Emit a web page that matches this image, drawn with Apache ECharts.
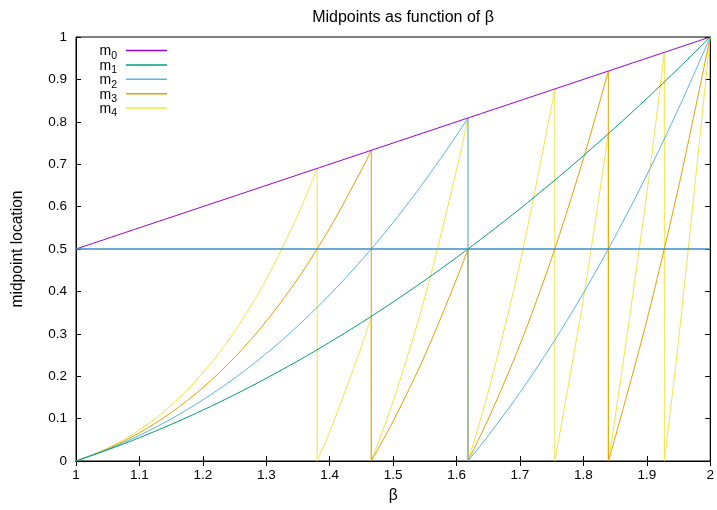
<!DOCTYPE html>
<html>
<head>
<meta charset="utf-8">
<script src="https://cdn.jsdelivr.net/npm/echarts@6/dist/echarts.min.js"></script>
<style>
  html, body { margin: 0; padding: 0; background: #fff; }
  #chart { width: 717px; height: 510px; }
</style>
</head>
<body>
<div id="chart"></div>
<script>
// Orbit of the midpoint under the beta map, m_k as a function of beta.
// Each curve is stored as continuous pieces of [beta, m] pairs; a jump
// back to 0 separates consecutive pieces.
const m0Pieces = [
  [[1, 0.5], [2, 1]]
];
const m1Pieces = [
  [[1, 0], [1.05, 0.02625], [1.1, 0.055], [1.15, 0.08625], [1.2, 0.12], [1.25, 0.15625],
   [1.3, 0.195], [1.35, 0.23625], [1.4, 0.28], [1.45, 0.32625], [1.5, 0.375], [1.55, 0.42625],
   [1.6, 0.48], [1.65, 0.53625], [1.7, 0.595], [1.75, 0.65625], [1.8, 0.72], [1.85, 0.78625],
   [1.9, 0.855], [1.95, 0.92625], [2, 1]]
];
const m2Pieces = [
  [[1, 0], [1.05, 0.027563], [1.1, 0.0605], [1.15, 0.099188], [1.2, 0.144], [1.25, 0.195313],
   [1.3, 0.2535], [1.35, 0.318938], [1.4, 0.392], [1.45, 0.473063], [1.5, 0.5625],
   [1.55, 0.660688], [1.6, 0.768], [1.61803, 0.80902]],
  [[1.61803, 0], [1.65, 0.059813], [1.7, 0.1615], [1.75, 0.273438], [1.8, 0.396],
   [1.85, 0.529563], [1.9, 0.6745], [1.95, 0.831188], [2, 1]]
];
const m3Pieces = [
  [[1, 0], [1.05, 0.028941], [1.1, 0.06655], [1.15, 0.114066], [1.2, 0.1728], [1.25, 0.244141],
   [1.3, 0.32955], [1.35, 0.430566], [1.4, 0.5488], [1.45, 0.685941], [1.46557, 0.732782]],
  [[1.46557, 0], [1.5, 0.09375], [1.55, 0.249066], [1.6, 0.4288], [1.61803, 0.5]],
  [[1.61803, 0], [1.65, 0.098691], [1.7, 0.27455], [1.75, 0.478516], [1.8, 0.7128],
   [1.83929, 0.919645]],
  [[1.83929, 0], [1.85, 0.054691], [1.9, 0.33155], [1.95, 0.645816], [2, 1]]
];
const m4Pieces = [
  [[1, 0], [1.05, 0.030388], [1.1, 0.073205], [1.15, 0.131176], [1.2, 0.20736], [1.25, 0.305176],
   [1.3, 0.428415], [1.35, 0.581264], [1.38028, 0.690152]],
  [[1.38028, 0], [1.4, 0.06832], [1.45, 0.269614], [1.46557, 0.341155]],
  [[1.46557, 0], [1.5, 0.140625], [1.55, 0.386052], [1.6, 0.68608], [1.61803, 0.80902]],
  [[1.61803, 0], [1.65, 0.16284], [1.7, 0.466735], [1.75, 0.837402], [1.75488, 0.87744]],
  [[1.75488, 0], [1.8, 0.38304], [1.83929, 0.771849]],
  [[1.83929, 0], [1.85, 0.101178], [1.9, 0.629945], [1.92756, 0.96378]],
  [[1.92756, 0], [1.95, 0.28434], [2, 1]]
];
const halfLine = [[1, 0.5], [2, 0.5]];

const curveNames = ['m0', 'm1', 'm2', 'm3', 'm4'];
const curvePieces = [m0Pieces, m1Pieces, m2Pieces, m3Pieces, m4Pieces];
const curveColors = ['#9400d3', '#009e73', '#56b4e9', '#e69f00', '#f0e442'];

const FONT = '"Liberation Sans", Arial, Helvetica, sans-serif';

const series = [];
curvePieces.forEach((pieces, k) => {
  const base = {
    type: 'line',
    name: curveNames[k],
    showSymbol: false,
    symbol: 'none',
    silent: true,
    animation: false,
    lineStyle: { color: curveColors[k], width: 1 },
    itemStyle: { color: curveColors[k] },
    z: 10 - k
  };
  pieces.forEach((piece, i) => {
    series.push(Object.assign({}, base, { data: piece, smooth: 0.3 }));
    if (i + 1 < pieces.length) {
      // vertical drop where the orbit wraps around
      series.push(Object.assign({}, base, {
        data: [piece[piece.length - 1], pieces[i + 1][0]]
      }));
    }
  });
});
series.push({
  type: 'line',
  name: 'half',
  data: halfLine,
  symbol: 'none',
  silent: true,
  animation: false,
  lineStyle: { color: '#3a8cc8', width: 1.4 },
  z: 20
});

const tickFont = { color: '#000', fontFamily: FONT, fontSize: 13.5 };
const nameFont = { color: '#000', fontFamily: FONT, fontSize: 15.6 };
const tickStyle = { show: true, inside: true, length: 5, lineStyle: { color: '#000', width: 1 } };
const fmt = v => String(+v.toFixed(1));

const chart = echarts.init(document.getElementById('chart'), null, { renderer: 'canvas' });
chart.setOption({
  animation: false,
  backgroundColor: '#fff',
  title: {
    text: 'Midpoints as function of β',
    left: 398,
    textAlign: 'center',
    top: 5,
    textStyle: { color: '#000', fontFamily: FONT, fontSize: 16, fontWeight: 'normal' }
  },
  legend: {
    data: curveNames,
    orient: 'vertical',
    left: 99.5,
    top: 44.5,
    padding: 0,
    itemGap: -2.6,
    align: 'right',
    icon: 'rect',
    itemWidth: 41,
    itemHeight: 1.5,
    selectedMode: false,
    formatter: name => '{m|m}{s|' + name.slice(1) + '}',
    textStyle: {
      padding: 0,
      rich: {
        m: { fontFamily: FONT, fontSize: 14, color: '#000', lineHeight: 12, verticalAlign: 'top' },
        s: { fontFamily: FONT, fontSize: 10.5, color: '#000', lineHeight: 10, verticalAlign: 'top', padding: [6, 4, 0, 0] }
      }
    }
  },
  grid: {
    left: 76, right: 4, top: 37, bottom: 49,
    show: true, borderColor: '#000', borderWidth: 1, backgroundColor: 'transparent'
  },
  xAxis: [{
    type: 'value', min: 1, max: 2, interval: 0.1,
    name: 'β', nameLocation: 'middle', nameGap: 27,
    nameTextStyle: nameFont,
    axisLine: { show: true, lineStyle: { color: '#000' } },
    axisTick: tickStyle,
    axisLabel: Object.assign({ margin: 7, formatter: fmt }, tickFont),
    splitLine: { show: false }
  }, {
    type: 'value', min: 1, max: 2, interval: 0.1, position: 'top',
    axisLine: { show: true, lineStyle: { color: '#000' } },
    axisTick: tickStyle,
    axisLabel: { show: false },
    splitLine: { show: false }
  }],
  yAxis: [{
    type: 'value', min: 0, max: 1, interval: 0.1,
    name: 'midpoint location', nameLocation: 'middle', nameGap: 50, nameRotate: 90,
    nameTextStyle: nameFont,
    axisLine: { show: true, lineStyle: { color: '#000' } },
    axisTick: tickStyle,
    axisLabel: Object.assign({ margin: 9, formatter: fmt }, tickFont),
    splitLine: { show: false }
  }, {
    type: 'value', min: 0, max: 1, interval: 0.1, position: 'right',
    axisLine: { show: true, lineStyle: { color: '#000' } },
    axisTick: tickStyle,
    axisLabel: { show: false },
    splitLine: { show: false }
  }],
  series: series
});
</script>
</body>
</html>
